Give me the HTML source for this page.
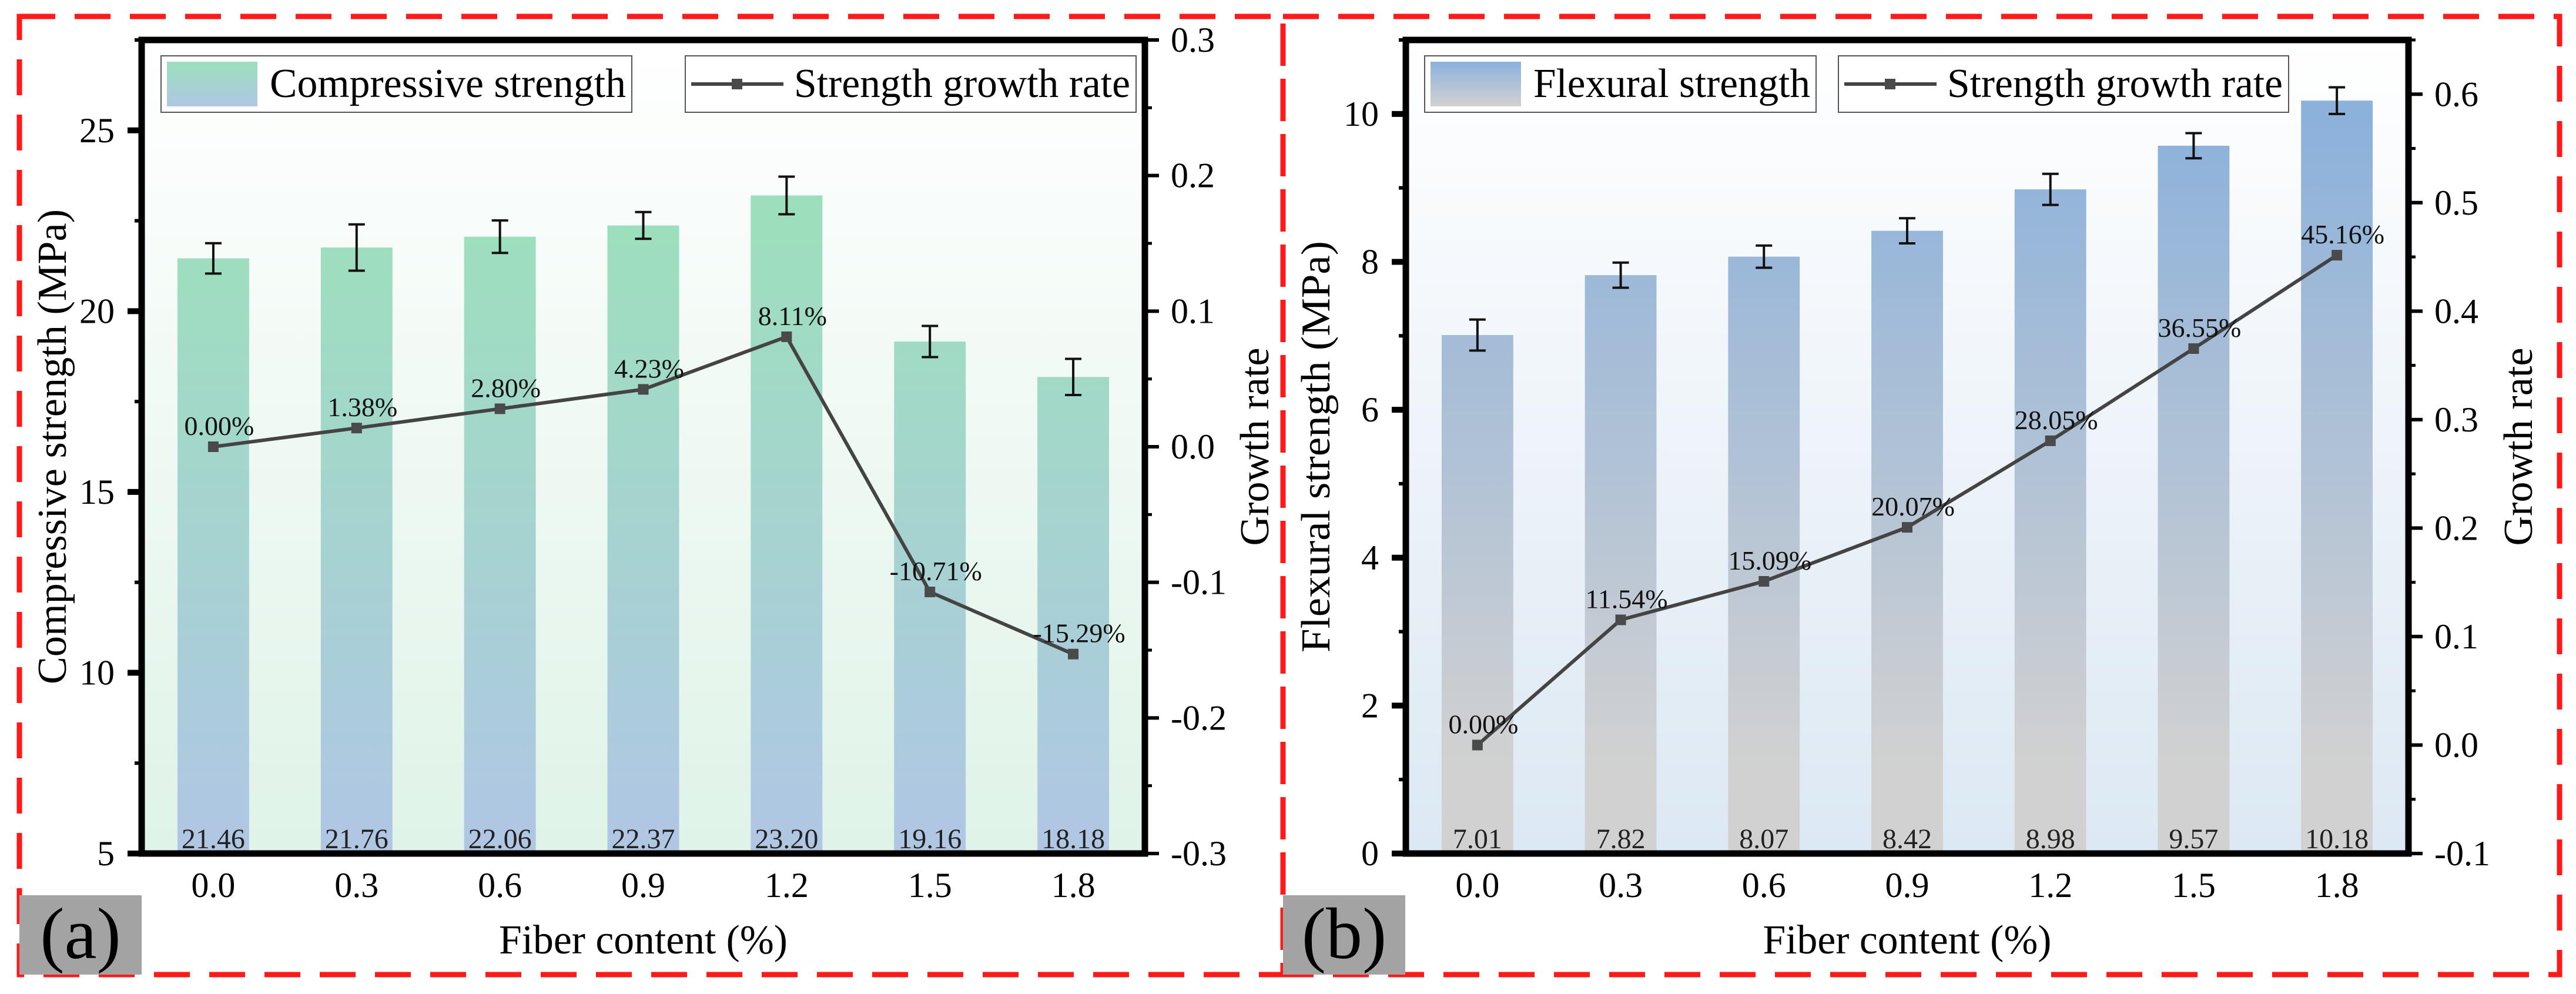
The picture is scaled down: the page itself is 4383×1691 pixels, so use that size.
<!DOCTYPE html>
<html><head><meta charset="utf-8"><style>
html,body{margin:0;padding:0;background:#fff;}
svg{display:block;}
svg text{font-family:"Liberation Serif","Times New Roman",Times,serif;}
</style></head><body>
<svg id="fig" width="4383" height="1691" viewBox="0 0 4383 1691" xmlns="http://www.w3.org/2000/svg" font-family="'Liberation Serif', 'Times New Roman', serif">
<defs>
<linearGradient id="barA" gradientUnits="userSpaceOnUse" x1="0" y1="400" x2="0" y2="1400"><stop offset="0" stop-color="#9ddfbd"/><stop offset="1" stop-color="#afc7e3"/></linearGradient>
<linearGradient id="bgA" gradientUnits="userSpaceOnUse" x1="0" y1="68" x2="0" y2="1452"><stop offset="0" stop-color="#ffffff"/><stop offset="1" stop-color="#dff3e8"/></linearGradient>
<linearGradient id="barB" gradientUnits="userSpaceOnUse" x1="0" y1="200" x2="0" y2="1300"><stop offset="0" stop-color="#8cb1db"/><stop offset="1" stop-color="#d1d1d1"/></linearGradient>
<linearGradient id="bgB" gradientUnits="userSpaceOnUse" x1="0" y1="68" x2="0" y2="1452"><stop offset="0" stop-color="#ffffff"/><stop offset="1" stop-color="#dce8f3"/></linearGradient>
<linearGradient id="swA" x1="0" y1="0" x2="0" y2="1"><stop offset="0" stop-color="#9ddfbd"/><stop offset="1" stop-color="#afc7e3"/></linearGradient>
<linearGradient id="swB" x1="0" y1="0" x2="0" y2="1"><stop offset="0" stop-color="#8cb1db"/><stop offset="1" stop-color="#d1d1d1"/></linearGradient>
</defs>
</svg>
<script>
const categories = ["0.0","0.3","0.6","0.9","1.2","1.5","1.8"];
const compValues = [21.46,21.76,22.06,22.37,23.20,19.16,18.18];
const compErrors = [0.42,0.64,0.45,0.37,0.52,0.43,0.5];
const compGrowth = [0,0.0138,0.0280,0.0423,0.0811,-0.1071,-0.1529];
const compGrowthLabels = ["0.00%","1.38%","2.80%","4.23%","8.11%","-10.71%","-15.29%"];
const compLeftTicks = [5,10,15,20,25];
const compRightTicks = ["-0.3","-0.2","-0.1","0.0","0.1","0.2","0.3"];
const flexValues = [7.01,7.82,8.07,8.42,8.98,9.57,10.18];
const flexErrors = [0.21,0.17,0.15,0.17,0.21,0.17,0.18];
const flexGrowth = [0,0.1154,0.1509,0.2007,0.2805,0.3655,0.4516];
const flexGrowthLabels = ["0.00%","11.54%","15.09%","20.07%","28.05%","36.55%","45.16%"];
const flexLeftTicks = [0,2,4,6,8,10];
const flexRightTicks = ["-0.1","0.0","0.1","0.2","0.3","0.4","0.5","0.6"];

const NS="http://www.w3.org/2000/svg";
const svg=document.getElementById('fig');
const FF="'Liberation Serif', 'Times New Roman', serif";
function mk(tag,attrs,parent,text){const e=document.createElementNS(NS,tag);for(const k in attrs)e.setAttribute(k,attrs[k]);if(tag==='text')e.setAttribute('font-family',FF);if(text!==undefined)e.textContent=text;(parent||svg).appendChild(e);return e;}

function panel(o){
  const g=mk('g',{});
  
  
  const L=o.left,R=o.right,T=68,B=1452;
  const band=(R-L)/categories.length;
  const xs=i=>L+band*(i+0.5);
  const yl=v=>B-(v-o.lmin)/(o.lmax-o.lmin)*(B-T);
  const yr=v=>B-(v-o.rmin)/(o.rmax-o.rmin)*(B-T);
  const bd=mk('rect',{x:o.bx0,y:28,width:o.bx1-o.bx0,height:1630,fill:'none',stroke:'#ff1a1a','stroke-width':9,'stroke-dasharray':'61 33'},g);
  
  
  const bg=mk('rect',{x:L,y:T,width:R-L,height:B-T,fill:o.bg},g);
  
  
  o.values.forEach((v,i)=>{
    const bw=band*0.5;
    const b=mk('rect',{x:xs(i)-bw/2,y:yl(v),width:bw,height:B-yl(v),fill:o.bar},g);
    
    
    const e=o.errors[i];
    const eb=mk('path',{d:`M${xs(i)} ${yl(v+e)}V${yl(v-e)}M${xs(i)-14} ${yl(v+e)}h28M${xs(i)-14} ${yl(v-e)}h28`,stroke:'#111','stroke-width':4,fill:'none'},g);
    
    
    const vl=mk('text',{x:xs(i),y:1443,'font-size':48,'text-anchor':'middle',fill:'#222'},g,v.toFixed(2));
    
    
  });
  const pts=o.growth.map((v,i)=>xs(i)+','+yr(v)).join(' ');
  const ln=mk('polyline',{points:pts,fill:'none',stroke:'#444','stroke-width':6},g);
  
  
  o.growth.forEach((v,i)=>{
    const m=mk('rect',{x:xs(i)-9,y:yr(v)-9,width:18,height:18,fill:'#4a4a4a'},g);
    
    
    const t=mk('text',{x:xs(i)+10,y:yr(v)-20,'font-size':46,'text-anchor':'middle',fill:'#111'},g,o.glabels[i]);
    
    
  });
  const ax=mk('path',{d:`M${L} ${T}V${B}H${R}V${T}Z`,fill:'none',stroke:'#000','stroke-width':11},g);
  
  
  const lstep=o.lticks[1]-o.lticks[0];
  for(let v=o.lmin;v<=o.lmax+1e-9;v+=lstep/2){
    const major=Math.abs(((v-o.lticks[0])/lstep)-Math.round((v-o.lticks[0])/lstep))<1e-6;
    mk('line',{x1:L-(major?24:12),x2:L,y1:yl(v),y2:yl(v),stroke:'#000','stroke-width':major?10:6},g);
  }
  o.lticks.forEach(v=>{
    const t=mk('text',{x:L-46,y:yl(v)+20,'font-size':60,'text-anchor':'end'},g,String(v));
    
    
  });
  const rv=o.rticks.map(Number);
  const rstep=rv[1]-rv[0];
  for(let v=rv[0];v<=o.rmax+1e-9;v+=rstep/2){
    const k=(v-rv[0])/rstep;const major=Math.abs(k-Math.round(k))<1e-6;
    mk('line',{x1:R,x2:R+(major?24:12),y1:yr(v),y2:yr(v),stroke:'#000','stroke-width':major?6:5},g);
  }
  o.rticks.forEach(s=>{
    const t=mk('text',{x:R+44,y:yr(Number(s))+20,'font-size':60,'text-anchor':'start'},g,s);
    
    
  });
  categories.forEach((c,i)=>{
    const t=mk('text',{x:xs(i),y:1526,'font-size':60,'text-anchor':'middle'},g,c);
    
    
  });
  const xt=mk('text',{x:(L+R)/2,y:1622,'font-size':70,'text-anchor':'middle',textLength:491,lengthAdjust:'spacingAndGlyphs'},g,'Fiber content (%)');
  
  
  const yt=mk('text',{x:0,y:0,'font-size':70,'text-anchor':'middle',textLength:o.ltitleLen,lengthAdjust:'spacingAndGlyphs',transform:`translate(${o.ltitleX},760) rotate(-90)`},g,o.ltitle);
  
  
  const rt=mk('text',{x:0,y:0,'font-size':70,'text-anchor':'middle',textLength:337,lengthAdjust:'spacingAndGlyphs',transform:`translate(${o.rtitleX},760) rotate(-90)`},g,'Growth rate');
  
  
  const l1=mk('g',{},g);
  
  
  mk('rect',{x:o.lg1[0],y:95,width:o.lg1[1]-o.lg1[0],height:96,fill:'#fff',stroke:'#555','stroke-width':2},l1);
  mk('rect',{x:o.lg1[0]+10,y:105,width:154,height:76,fill:o.sw},l1);
  mk('text',{x:o.lg1[0]+185,y:165,'font-size':70,textLength:o.lg1[1]-o.lg1[0]-195,lengthAdjust:'spacingAndGlyphs'},l1,o.legendText);
  const l2=mk('g',{},g);
  
  
  mk('rect',{x:o.lg2[0],y:95,width:o.lg2[1]-o.lg2[0],height:96,fill:'#fff',stroke:'#555','stroke-width':2},l2);
  mk('line',{x1:o.lg2[0]+10,x2:o.lg2[0]+167,y1:143,y2:143,stroke:'#444','stroke-width':6},l2);
  mk('rect',{x:o.lg2[0]+79,y:134,width:18,height:18,fill:'#4a4a4a'},l2);
  mk('text',{x:o.lg2[0]+185,y:165,'font-size':70,textLength:o.lg2[1]-o.lg2[0]-195,lengthAdjust:'spacingAndGlyphs'},l2,'Strength growth rate');
  const pl=mk('g',{},g);
  
  
  mk('rect',{x:o.bx0,y:1523,width:208,height:135,fill:'#a3a3a3'},pl);
  mk('text',{x:o.bx0+104,y:1630,'font-size':124,'text-anchor':'middle',fill:'#000'},pl,o.letter);
}

panel({name:'compressive-panel',left:241,right:1948,bx0:33,bx1:2183,lmin:5,lmax:27.5,rmin:-0.3,rmax:0.3,
  values:compValues,errors:compErrors,growth:compGrowth,glabels:compGrowthLabels,lticks:compLeftTicks,rticks:compRightTicks,
  bar:'url(#barA)',bg:'url(#bgA)',sw:'url(#swA)',ltitle:'Compressive strength (MPa)',ltitleLen:808,ltitleX:112,rtitleX:2158,
  lg1:[274,1075],lg2:[1166,1933],legendText:'Compressive strength',letter:'(a)'});
panel({name:'flexural-panel',left:2392,right:4098,bx0:2183,bx1:4355,lmin:0,lmax:11,rmin:-0.1,rmax:0.65,
  values:flexValues,errors:flexErrors,growth:flexGrowth,glabels:flexGrowthLabels,lticks:flexLeftTicks,rticks:flexRightTicks,
  bar:'url(#barB)',bg:'url(#bgB)',sw:'url(#swB)',ltitle:'Flexural strength (MPa)',ltitleLen:700,ltitleX:2262,rtitleX:4308,
  lg1:[2424,3090],lg2:[3128,3894],legendText:'Flexural strength',letter:'(b)'});
</script>
</body></html>
